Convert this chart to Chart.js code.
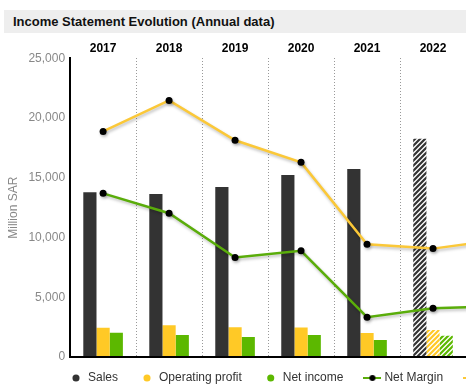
<!DOCTYPE html>
<html><head><meta charset="utf-8">
<script src="https://cdn.jsdelivr.net/npm/chart.js@4"></script>
<style>
html,body{margin:0;padding:0;overflow:hidden;width:466px;height:389px;background:#fff;font-family:"Liberation Sans",Arial,sans-serif;}
#title{position:absolute;left:4px;top:10px;width:470px;height:23px;background:#eeeeee;font-weight:bold;font-size:13px;line-height:23px;padding-left:9px;color:#111;box-sizing:border-box;white-space:nowrap;}
#wrap{position:absolute;left:0;top:34px;width:620px;height:404px;}
</style></head><body>
<div id="title">Income Statement Evolution (Annual data)</div>
<div id="wrap"><canvas id="c"></canvas></div>
<script>
// ---- data (Million SAR; margins in %) ----
const years = ['2017','2018','2019','2020','2021','2022','2023'];
const sales = [13800, 13640, 14230, 15240, 15740, 18270, null];
const operatingProfit = [2440, 2650, 2500, 2480, 2000, 2270, null];
const netIncome = [2020, 1850, 1680, 1850, 1430, 1770, null];
const netMargin = [15.6, 14.7, 12.7, 13.0, 10.0, 10.4, 10.5];
const operatingMargin = [18.4, 19.8, 18.0, 17.0, 13.3, 13.1, 13.5];
const yTicksMax = 25000, yTickStep = 5000;
const estimatedFrom = 5; // index of first estimated year (hatched)

const C_SALES = '#333333', C_OP = '#ffc926', C_NET = '#5cb800';
const C_OP_LINE = '#fbc838', C_NET_LINE = '#5aad0a';

Chart.defaults.font.family = '"Liberation Sans", Arial, sans-serif';

function hatch(color){
  const s = 5, c = document.createElement('canvas'); c.width = s; c.height = s;
  const x = c.getContext('2d');
  x.fillStyle = '#fff'; x.fillRect(0,0,s,s);
  x.strokeStyle = color; x.lineWidth = 2.2; x.beginPath();
  x.moveTo(0,s); x.lineTo(s,0);
  x.moveTo(-1,1); x.lineTo(1,-1);
  x.moveTo(s-1,s+1); x.lineTo(s+1,s-1);
  x.stroke();
  return x.createPattern(c,'repeat');
}
function colorsFor(base){
  return years.map((y,i)=> i >= estimatedFrom ? hatch(base) : base);
}
function legendLine(color){
  const c = document.createElement('canvas'); c.width = 18; c.height = 8;
  const x = c.getContext('2d');
  x.strokeStyle = color; x.lineWidth = 2; x.beginPath(); x.moveTo(0,4); x.lineTo(18,4); x.stroke();
  x.fillStyle = '#000'; x.beginPath(); x.arc(9,4,3,0,Math.PI*2); x.fill();
  return c;
}

const lineShadow = {
  id:'lineShadow',
  beforeDatasetDraw(chart,args){ if(args.meta.type==='line'){ const c=chart.ctx; c.save(); c.shadowColor='rgba(0,0,0,0.25)'; c.shadowBlur=3; c.shadowOffsetX=1; c.shadowOffsetY=2; } },
  afterDatasetDraw(chart,args){ if(args.meta.type==='line') chart.ctx.restore(); }
};
const legendPlace = {
  id:'legendPlace',
  afterLayout(chart){
    const lg = chart.legend; if(!lg) return;
    lg.left = 47; lg.right = 2000; lg.top = 315; lg.bottom = lg.top + lg.height;
  }
};

new Chart(document.getElementById('c'), {
  type:'bar',
  data:{
    labels: years,
    datasets:[
      {label:'Sales', data:sales, backgroundColor:colorsFor(C_SALES), legendColor:C_SALES, order:1, yAxisID:'y'},
      {label:'Operating profit', data:operatingProfit, backgroundColor:colorsFor(C_OP), legendColor:C_OP, order:1, yAxisID:'y'},
      {label:'Net income', data:netIncome, backgroundColor:colorsFor(C_NET), legendColor:C_NET, order:1, yAxisID:'y'},
      {type:'line', label:'Net Margin', data:netMargin, borderColor:C_NET_LINE, borderWidth:2.5, pointBackgroundColor:'#000', pointBorderColor:'#000', pointRadius:3.5, pointBorderWidth:0, tension:0, order:0, yAxisID:'y1'},
      {type:'line', label:'Operating Margin', data:operatingMargin, borderColor:C_OP_LINE, borderWidth:2.5, pointBackgroundColor:'#000', pointBorderColor:'#000', pointRadius:3.5, pointBorderWidth:0, tension:0, order:0, yAxisID:'y1'}
    ]
  },
  options:{
    responsive:true, maintainAspectRatio:false, animation:false,
    categoryPercentage:0.6, barPercentage:1.0,
    layout:{padding:{top:4,left:6,right:88,bottom:1}},
    plugins:{
      tooltip:{enabled:false},
      legend:{
        position:'bottom', align:'start',
        labels:{
          usePointStyle:true, boxWidth:12, boxHeight:5, padding:23, color:'#333', font:{size:12},
          sort:(a,b)=>a.datasetIndex-b.datasetIndex,
          generateLabels(chart){
            const items = Chart.defaults.plugins.legend.labels.generateLabels(chart);
            items.forEach(it=>{
              const ds = chart.data.datasets[it.datasetIndex];
              if(ds.type==='line'){ it.pointStyle = legendLine(ds.borderColor); }
              else { it.pointStyle='circle'; it.fillStyle=ds.legendColor; it.strokeStyle=ds.legendColor; it.lineWidth=0; }
            });
            return items;
          }
        }
      }
    },
    scales:{
      x:{position:'top', grid:{offset:true, drawTicks:false, color:'#999', lineWidth:1}, border:{display:false, dash:[1,2]},
         ticks:{color:'#000', font:{size:12, weight:'bold'}, padding:3}},
      y:{position:'left', min:0, max:yTicksMax,
         ticks:{stepSize:yTickStep, color:'#888', font:{size:12}, padding:5, callback:v=>Number(v).toLocaleString('en-US')},
         grid:{drawTicks:false, lineWidth:2, color:c=> (c.tick && c.tick.value===0) ? '#000' : 'rgba(0,0,0,0)'},
         border:{display:true, color:'#000', width:2},
         title:{display:true, text:'Million SAR', color:'#888', font:{size:12}, padding:{top:0,bottom:3}}},
      y1:{display:false, min:8.2, max:21.7}
    }
  },
  plugins:[lineShadow, legendPlace]
});
</script>
</body></html>
